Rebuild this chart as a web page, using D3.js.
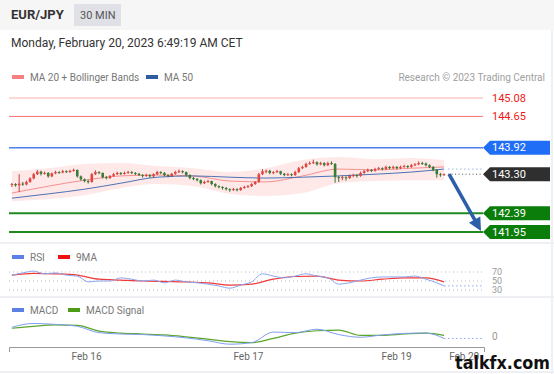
<!DOCTYPE html>
<html>
<head>
<meta charset="utf-8">
<script src="https://cdn.jsdelivr.net/npm/d3@7"></script>
<style>
  body { margin: 0; background: #fff; }
  svg { display: block; font-family: Roboto, "Liberation Sans", Arial, sans-serif; }
</style>
</head>
<body>
<div id="chart"></div>
<script>
canWidth = 554;
canHeight = 374;

// OHLC, 30 min candles, [open, high, low, close]
var candles = [
    [143.05,143.10,143.00,143.07],[143.07,143.09,143.01,143.04],[143.04,143.30,142.88,143.08],[143.08,143.12,143.03,143.06],
    [143.06,143.15,143.04,143.12],[143.12,143.23,143.10,143.20],[143.20,143.33,143.18,143.30],[143.30,143.40,143.28,143.36],
    [143.36,143.38,143.27,143.31],[143.31,143.36,143.29,143.33],[143.33,143.35,143.22,143.25],[143.25,143.34,143.23,143.32],
    [143.32,143.38,143.30,143.35],[143.35,143.37,143.31,143.34],[143.34,143.40,143.32,143.37],[143.37,143.39,143.33,143.35],
    [143.35,143.40,143.33,143.38],[143.38,143.43,143.36,143.40],[143.40,143.41,143.22,143.25],[143.25,143.27,143.15,143.18],
    [143.18,143.20,143.11,143.14],[143.14,143.17,143.08,143.12],[143.12,143.33,143.10,143.30],[143.30,143.39,143.28,143.35],
    [143.35,143.37,143.30,143.33],[143.33,143.34,143.20,143.23],[143.23,143.26,143.18,143.21],[143.21,143.28,143.19,143.26],
    [143.26,143.33,143.24,143.30],[143.30,143.36,143.28,143.33],[143.33,143.35,143.28,143.31],[143.31,143.36,143.29,143.33],
    [143.33,143.38,143.31,143.35],[143.35,143.37,143.30,143.33],[143.33,143.35,143.28,143.31],[143.31,143.33,143.26,143.28],
    [143.28,143.30,143.22,143.26],[143.26,143.31,143.24,143.28],[143.28,143.30,143.22,143.25],[143.25,143.32,143.23,143.30],
    [143.30,143.38,143.28,143.35],[143.35,143.37,143.30,143.33],[143.33,143.35,143.25,143.28],[143.28,143.30,143.23,143.26],
    [143.26,143.33,143.24,143.31],[143.31,143.38,143.29,143.35],[143.35,143.41,143.33,143.37],[143.37,143.39,143.32,143.35],
    [143.35,143.36,143.25,143.28],[143.28,143.30,143.18,143.21],[143.21,143.24,143.16,143.19],[143.19,143.21,143.13,143.16],
    [143.16,143.18,143.06,143.09],[143.09,143.15,143.07,143.12],[143.12,143.17,143.10,143.14],[143.14,143.15,143.04,143.07],
    [143.07,143.09,142.99,143.02],[143.02,143.04,142.97,143.00],[143.00,143.02,142.94,142.98],[142.98,143.00,142.92,142.95],
    [142.95,142.97,142.89,142.93],[142.93,142.98,142.91,142.95],[142.95,142.97,142.90,142.93],[142.93,143.00,142.91,142.98],
    [142.98,143.03,142.96,143.00],[143.00,143.05,142.98,143.02],[143.02,143.09,143.00,143.07],[143.07,143.14,143.05,143.12],
    [143.12,143.33,143.10,143.30],[143.30,143.42,143.28,143.37],[143.37,143.41,143.32,143.38],[143.38,143.40,143.30,143.33],
    [143.33,143.37,143.30,143.35],[143.35,143.40,143.33,143.37],[143.37,143.38,143.28,143.31],[143.31,143.33,143.25,143.28],
    [143.28,143.33,143.26,143.30],[143.30,143.32,143.25,143.28],[143.28,143.38,143.26,143.35],[143.35,143.47,143.33,143.44],
    [143.44,143.50,143.42,143.47],[143.47,143.57,143.45,143.54],[143.54,143.60,143.52,143.56],[143.56,143.64,143.54,143.58],
    [143.58,143.60,143.50,143.53],[143.53,143.59,143.51,143.56],[143.56,143.58,143.48,143.51],[143.51,143.59,143.49,143.56],
    [143.56,143.60,143.52,143.54],[143.54,143.56,143.10,143.23],[143.23,143.26,143.12,143.21],[143.21,143.27,143.16,143.23],
    [143.23,143.25,143.15,143.21],[143.21,143.29,143.19,143.26],[143.26,143.31,143.23,143.28],[143.28,143.30,143.22,143.26],
    [143.26,143.36,143.24,143.33],[143.33,143.40,143.31,143.37],[143.37,143.43,143.35,143.40],[143.40,143.42,143.35,143.38],
    [143.38,143.45,143.36,143.42],[143.42,143.47,143.40,143.44],[143.44,143.46,143.39,143.42],[143.42,143.50,143.40,143.47],
    [143.47,143.49,143.42,143.44],[143.44,143.50,143.42,143.47],[143.47,143.49,143.41,143.44],[143.44,143.50,143.42,143.47],
    [143.47,143.52,143.45,143.49],[143.49,143.51,143.44,143.47],[143.47,143.54,143.45,143.51],[143.51,143.56,143.49,143.53],
    [143.53,143.60,143.51,143.56],[143.56,143.59,143.52,143.55],[143.55,143.57,143.48,143.51],[143.51,143.53,143.44,143.47],
    [143.47,143.49,143.37,143.40],[143.40,143.42,143.22,143.30],[143.30,143.33,143.24,143.28],[143.28,143.32,143.26,143.30]
];

// indicator lines, read every 10 candles
var maIdx   = [0, 10, 20, 30, 40, 50, 60, 70, 80, 90, 100, 110, 119];
var ma20    = [142.86,143.02,143.16,143.26,143.28,143.26,143.14,143.12,143.26,143.42,143.40,143.44,143.47];
var bbUpper = [143.37,143.44,143.54,143.56,143.49,143.44,143.35,143.44,143.63,143.70,143.65,143.68,143.63];
var bbLower = [142.67,142.72,142.81,142.98,143.07,143.02,142.84,142.79,142.86,143.09,143.14,143.16,143.16];
var ma50    = [142.74,142.84,142.95,143.09,143.23,143.26,143.23,143.21,143.23,143.26,143.30,143.35,143.42];

// price levels on the right
var levelValues = [145.08, 144.65, 143.92, 142.39, 141.95];
var lastPrice = 143.30;

// RSI, every 3 candles
var rsiIdx = [0,3,6,9,12,15,18,21,24,27,30,33,36,39,42,45,48,51,54,57,60,63,66,69,72,75,78,81,84,87,90,93,96,99,102,105,108,111,114,117,119];
var rsi    = [63,68,72,66,68,63,61,48,50,50,57,54,50,52,46,52,48,46,43,39,34,41,48,66,61,57,61,66,61,57,43,46,52,57,59,59,59,61,54,46,39];
// RSI 9MA, every 6 candles
var rsiMaIdx = [0,6,12,18,24,30,36,42,48,54,60,66,72,78,84,90,96,102,108,114,119];
var rsiMa    = [63,67,66,63,54,52,50,49,48,46,41,43,54,60,61,52,50,54,57,57,48];
var rsiLevels = [70, 50, 30];

// MACD, every 6 candles
var macdIdx = [0,6,12,18,24,30,36,42,48,54,60,66,72,78,84,90,96,102,108,114,119];
var macd       = [0.025,0.035,0.0325,0.0275,0.011,0.0075,0.006,0.0025,-0.0025,-0.010,-0.019,-0.015,0.0125,0.011,0.020,0.006,-0.001,0.005,0.009,0.010,-0.004];
var macdSignal = [0.0225,0.0275,0.031,0.030,0.015,0.010,0.0075,0.005,0,-0.006,-0.0125,-0.015,-0.004,0.010,0.016,0.0175,0.004,0.004,0.0075,0.010,0.004];

// time axis
var tickIdx = [20.4, 65, 105.8, 124.4];
var tickLabels = ["Feb 16", "Feb 17", "Feb 19", "Feb 20"];

var svg = d3.select("#chart")
    .append("svg")
    .attr("width", canWidth)
    .attr("height", canHeight);

// header
svg.append("rect").attr("x", 0).attr("y", 0).attr("width", canWidth).attr("height", 30).attr("fill", "#f6f6f6");
svg.append("text").attr("x", 11).attr("y", 19).attr("font-size", 13).attr("font-weight", "bold").attr("fill", "#333").text("EUR/JPY");
svg.append("rect").attr("x", 74).attr("y", 4).attr("width", 47).attr("height", 22).attr("fill", "#dfe1e6");
svg.append("text").attr("x", 80).attr("y", 19).attr("font-size", 11).attr("fill", "#555").text("30 MIN");
svg.append("text").attr("x", 11).attr("y", 47).attr("font-size", 12).attr("fill", "#333").text("Monday, February 20, 2023 6:49:19 AM CET");

// panel separators
[243, 297, 372].forEach(function (y) {
    svg.append("rect").attr("x", 0).attr("y", y - 1).attr("width", canWidth).attr("height", 2).attr("fill", "#eef0f3");
});
svg.append("rect").attr("x", 551).attr("y", 30).attr("width", 2).attr("height", 344).attr("fill", "#eef0f3");

// legends
function legendItem(x, y, color, label) {
    svg.append("rect").attr("x", x).attr("y", y - 2).attr("width", 12).attr("height", 4).attr("fill", color);
    svg.append("text").attr("x", x + 18).attr("y", y).attr("dominant-baseline", "central")
        .attr("font-size", 10).attr("fill", "#777").text(label);
}
legendItem(12, 77, "#f77f7f", "MA 20 + Bollinger Bands");
legendItem(146, 77, "#2f5c9e", "MA 50");
svg.append("text").attr("x", 545).attr("y", 77).attr("dominant-baseline", "central").attr("text-anchor", "end")
    .attr("font-size", 10).attr("fill", "#a0a0a0").text("Research \u00a9 2023 Trading Central");
legendItem(12, 257, "#5b80e6", "RSI");
legendItem(58, 257, "#f01010", "9MA");
legendItem(12, 310, "#5b80e6", "MACD");
legendItem(68, 310, "#4d9c16", "MACD Signal");

// scales
var x = d3.scaleLinear().domain([-0.8, 130]).range([9, 484]);
var yP = d3.scaleLinear().domain([141.95, 145.08]).range([232, 98]);
var yR = d3.scaleLinear().domain([30, 70]).range([290, 272]);
var yM = d3.scaleLinear().domain([-0.025, 0.04]).range([346.5, 321.5]);

var lineLeft = 9, lineRight = 483;

// bollinger band
var band = maIdx.map(function (d, i) { return { i: d, hi: bbUpper[i], lo: bbLower[i] }; });
svg.append("path")
    .datum(band)
    .attr("d", d3.area().curve(d3.curveMonotoneX)
        .x(function (d) { return x(d.i); })
        .y0(function (d) { return yP(d.lo); })
        .y1(function (d) { return yP(d.hi); }))
    .attr("fill", "#ff1a1a")
    .attr("fill-opacity", 0.1);

function series(idx, vals, ys) {
    return d3.line().curve(d3.curveMonotoneX)
        .x(function (d) { return x(d); })
        .y(function (d, i) { return ys(vals[i]); })(idx);
}

svg.append("path").attr("d", series(maIdx, ma20, yP)).attr("fill", "none").attr("stroke", "#f79090").attr("stroke-width", 1);
svg.append("path").attr("d", series(maIdx, ma50, yP)).attr("fill", "none").attr("stroke", "#4b73b5").attr("stroke-width", 1);

// level lines
var levelColors = ["#ffb0b0", "#f77070", "#4d80ee", "#1f8a1f", "#1f8a1f"];
var levelWidths = [1, 1, 1.5, 2, 2];
levelValues.forEach(function (v, i) {
    svg.append("line")
        .attr("x1", lineLeft).attr("x2", lineRight)
        .attr("y1", yP(v)).attr("y2", yP(v))
        .attr("stroke", levelColors[i])
        .attr("stroke-width", levelWidths[i]);
});

// dotted extensions to the right
svg.append("line").attr("x1", x(119) + 4).attr("x2", lineRight)
    .attr("y1", yP(ma50[ma50.length - 1])).attr("y2", yP(ma50[ma50.length - 1]))
    .attr("stroke", "#9db5e6").attr("stroke-dasharray", "1.5,2.5");
svg.append("line").attr("x1", x(119) + 4).attr("x2", lineRight)
    .attr("y1", yP(lastPrice)).attr("y2", yP(lastPrice))
    .attr("stroke", "#555").attr("stroke-dasharray", "1,2.5");

// candles
var candle = svg.selectAll(".candle")
    .data(candles)
    .enter()
    .append("g")
    .attr("class", "candle");

candle.append("line")
    .attr("x1", function (d, i) { return x(i); })
    .attr("x2", function (d, i) { return x(i); })
    .attr("y1", function (d) { return yP(d[1]); })
    .attr("y2", function (d) { return yP(d[2]); })
    .attr("stroke", function (d) { return d[3] >= d[0] ? "#b8302b" : "#2a5f26"; })
    .attr("stroke-width", 0.9);

candle.append("rect")
    .attr("x", function (d, i) { return x(i) - 1.3; })
    .attr("width", 2.6)
    .attr("y", function (d) { return yP(Math.max(d[0], d[3])); })
    .attr("height", function (d) { return Math.max(1, Math.abs(yP(d[0]) - yP(d[3]))); })
    .attr("fill", function (d) { return d[3] >= d[0] ? "#e4463f" : "#3a7d33"; });

// level texts and tags
function tag(v, fill) {
    var y = yP(v);
    svg.append("path")
        .attr("d", "M483," + y + "L490," + (y - 7) + "L550," + (y - 7) + "L550," + (y + 7) + "L490," + (y + 7) + "Z")
        .attr("fill", fill);
    svg.append("text").attr("x", 492).attr("y", y).attr("dominant-baseline", "central")
        .attr("font-size", 11).attr("fill", "white").text(v.toFixed(2));
}
svg.append("text").attr("x", 492).attr("y", yP(levelValues[0])).attr("dominant-baseline", "central")
    .attr("font-size", 11).attr("fill", "#f01818").text(levelValues[0].toFixed(2));
svg.append("text").attr("x", 492).attr("y", yP(levelValues[1])).attr("dominant-baseline", "central")
    .attr("font-size", 11).attr("fill", "#f01818").text(levelValues[1].toFixed(2));
tag(levelValues[2], "#1f6ef5");
tag(lastPrice, "#2f2f2f");
tag(levelValues[3], "#0a7d0a");
tag(levelValues[4], "#0a7d0a");

// forecast arrow
var ax0 = x(119) + 5, ay0 = yP(lastPrice);
var ax1 = 481, ay1 = yP(levelValues[4]) - 1;
var len = Math.hypot(ax1 - ax0, ay1 - ay0);
var ux = (ax1 - ax0) / len, uy = (ay1 - ay0) / len;
var bx = ax1 - 13 * ux, by = ay1 - 13 * uy;
svg.append("line").attr("x1", ax0).attr("y1", ay0).attr("x2", bx + 2 * ux).attr("y2", by + 2 * uy)
    .attr("stroke", "#2d5ea8").attr("stroke-width", 3.5);
svg.append("path")
    .attr("d", "M" + ax1 + "," + ay1 + "L" + (bx - 6.5 * uy) + "," + (by + 6.5 * ux) + "L" + (bx + 6.5 * uy) + "," + (by - 6.5 * ux) + "Z")
    .attr("fill", "#2d5ea8");

// RSI panel
rsiLevels.forEach(function (v) {
    svg.append("line").attr("x1", lineLeft).attr("x2", lineRight)
        .attr("y1", yR(v)).attr("y2", yR(v))
        .attr("stroke", "#bbb").attr("stroke-dasharray", "1,3");
});
svg.append("path").attr("d", series(rsiMaIdx, rsiMa, yR)).attr("fill", "none").attr("stroke", "#f03a3a").attr("stroke-width", 1.2);
svg.append("path").attr("d", series(rsiIdx, rsi, yR)).attr("fill", "none").attr("stroke", "#8aa6f0").attr("stroke-width", 1);
svg.append("line").attr("x1", x(119)).attr("x2", lineRight)
    .attr("y1", yR(rsi[rsi.length - 1])).attr("y2", yR(rsi[rsi.length - 1]))
    .attr("stroke", "#8aa6f0").attr("stroke-dasharray", "1.5,2.5");
rsiLevels.forEach(function (v) {
    svg.append("text").attr("x", 492).attr("y", yR(v)).attr("dominant-baseline", "central")
        .attr("font-size", 9).attr("fill", "#999").text(v);
});

// MACD panel
svg.append("path").attr("d", series(macdIdx, macdSignal, yM)).attr("fill", "none").attr("stroke", "#5aa52a").attr("stroke-width", 1.2);
svg.append("path").attr("d", series(macdIdx, macd, yM)).attr("fill", "none").attr("stroke", "#7f9ef0").attr("stroke-width", 1);
svg.append("line").attr("x1", x(119)).attr("x2", lineRight)
    .attr("y1", yM(macd[macd.length - 1])).attr("y2", yM(macd[macd.length - 1]))
    .attr("stroke", "#8aa6f0").attr("stroke-dasharray", "1.5,2.5");
svg.append("text").attr("x", 492).attr("y", yM(0)).attr("dominant-baseline", "central")
    .attr("font-size", 10).attr("fill", "#999").text("0");

// time axis
var axis = svg.append("g")
    .attr("transform", "translate(0,347)")
    .call(d3.axisBottom(x)
        .tickValues(tickIdx)
        .tickFormat(function (d, i) { return tickLabels[i]; })
        .tickSizeInner(0)
        .tickSizeOuter(5)
        .tickPadding(6));
axis.select(".domain").attr("stroke", "#999");
axis.selectAll("text").attr("font-size", 10).attr("fill", "#666").attr("font-family", "Roboto, 'Liberation Sans', Arial, sans-serif");

// watermark
svg.append("text").attr("x", 455).attr("y", 369).attr("font-size", 17).attr("font-weight", "bold")
    .attr("font-family", "'DejaVu Sans', sans-serif").attr("fill", "#111")
    .attr("textLength", 95).attr("lengthAdjust", "spacingAndGlyphs").text("talkfx.com");
</script>
</body>
</html>
